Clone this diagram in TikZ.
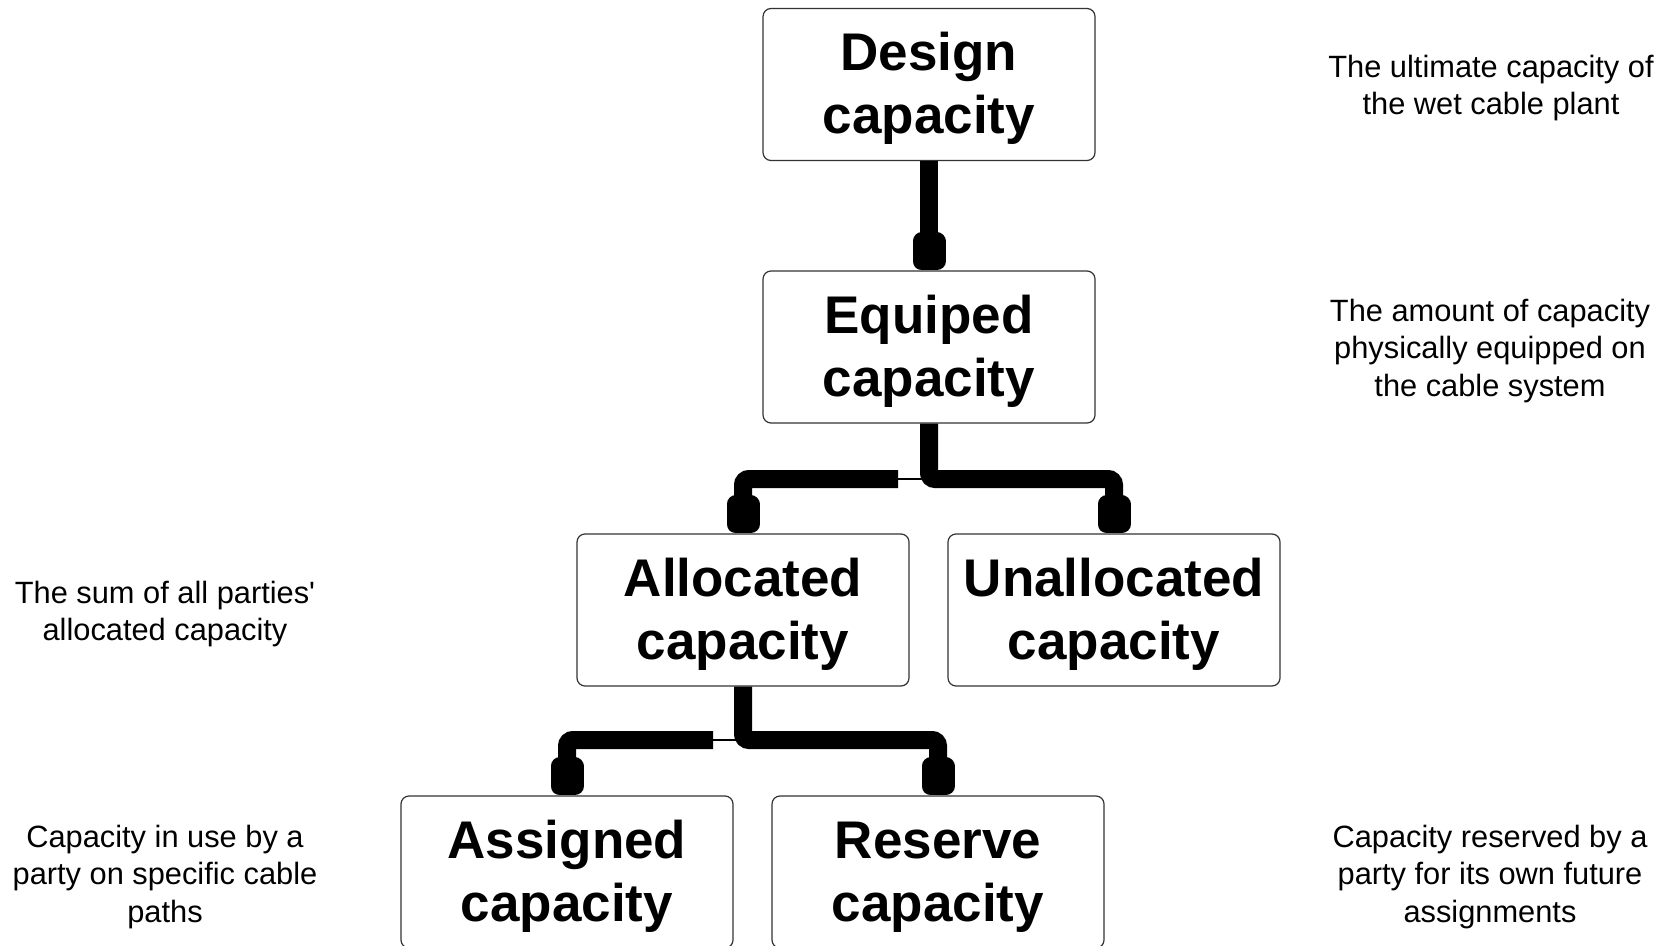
\documentclass[tikz,border=0pt]{standalone}
\usepackage{fontspec}
\setmainfont{Liberation Sans}
\usetikzlibrary{arrows.meta}
\newcommand\boxstrut{\rule{0pt}{23pt}}

\begin{document}
\begin{tikzpicture}[x=0.5pt,y=-0.5pt,
  box/.style={draw=black!80,line width=0.6pt,rounded corners=4pt,minimum width=166pt,minimum height=76pt,inner sep=0pt,align=center,font=\fontsize{26.5}{31.5}\selectfont\bfseries},
  note/.style={align=center,font=\fontsize{15.4}{18.7}\selectfont},
  pipe/.style={line width=9pt,rounded corners=3pt,-{Rectangle[length=19pt,width=16.5pt,round]}}]
\useasboundingbox (0,0) rectangle (1674,946);
% boxes
\node[box] (design) at (929,84.5) {\boxstrut Design\\capacity};
\node[box] (equip) at (929,347) {\boxstrut Equiped\\capacity};
\node[box] (alloc) at (743,610) {\boxstrut Allocated\\capacity};
\node[box] (unalloc) at (1114,610) {\boxstrut Unallocated\\capacity};
\node[box] (assign) at (567,872) {\boxstrut Assigned\\capacity};
\node[box] (reserve) at (938,872) {\boxstrut Reserve\\capacity};
% notes
\node[note] (ndesign) at (1491,88) {The ultimate capacity of\\the wet cable plant};
\node[note] (nequip) at (1490,351) {The amount of capacity\\physically equipped on\\the cable system};
\node[note] (nalloc) at (165,614) {The sum of all parties\textquotesingle\\allocated capacity};
\node[note] (nassign) at (165,877) {Capacity in use by a\\party on specific cable\\paths};
\node[note] (nreserve) at (1490,877) {Capacity reserved by a\\party for its own future\\assignments};
% connectors
\coordinate (j1) at (929,479);\coordinate (g1) at (898,479);
\coordinate (j2) at (743,740);\coordinate (g2) at (713,740);
\draw[pipe] (design.south)--(equip.north);
\draw[pipe] (equip.south)--(j1)-|(unalloc.north);
\draw[line width=1pt] (j1)--(g1);
\draw[pipe] (g1)-|(alloc.north);
\draw[pipe] (alloc.south)--(j2)-|(reserve.north);
\draw[line width=1pt] (j2)--(g2);
\draw[pipe] (g2)-|(assign.north);
\end{tikzpicture}
\end{document}
